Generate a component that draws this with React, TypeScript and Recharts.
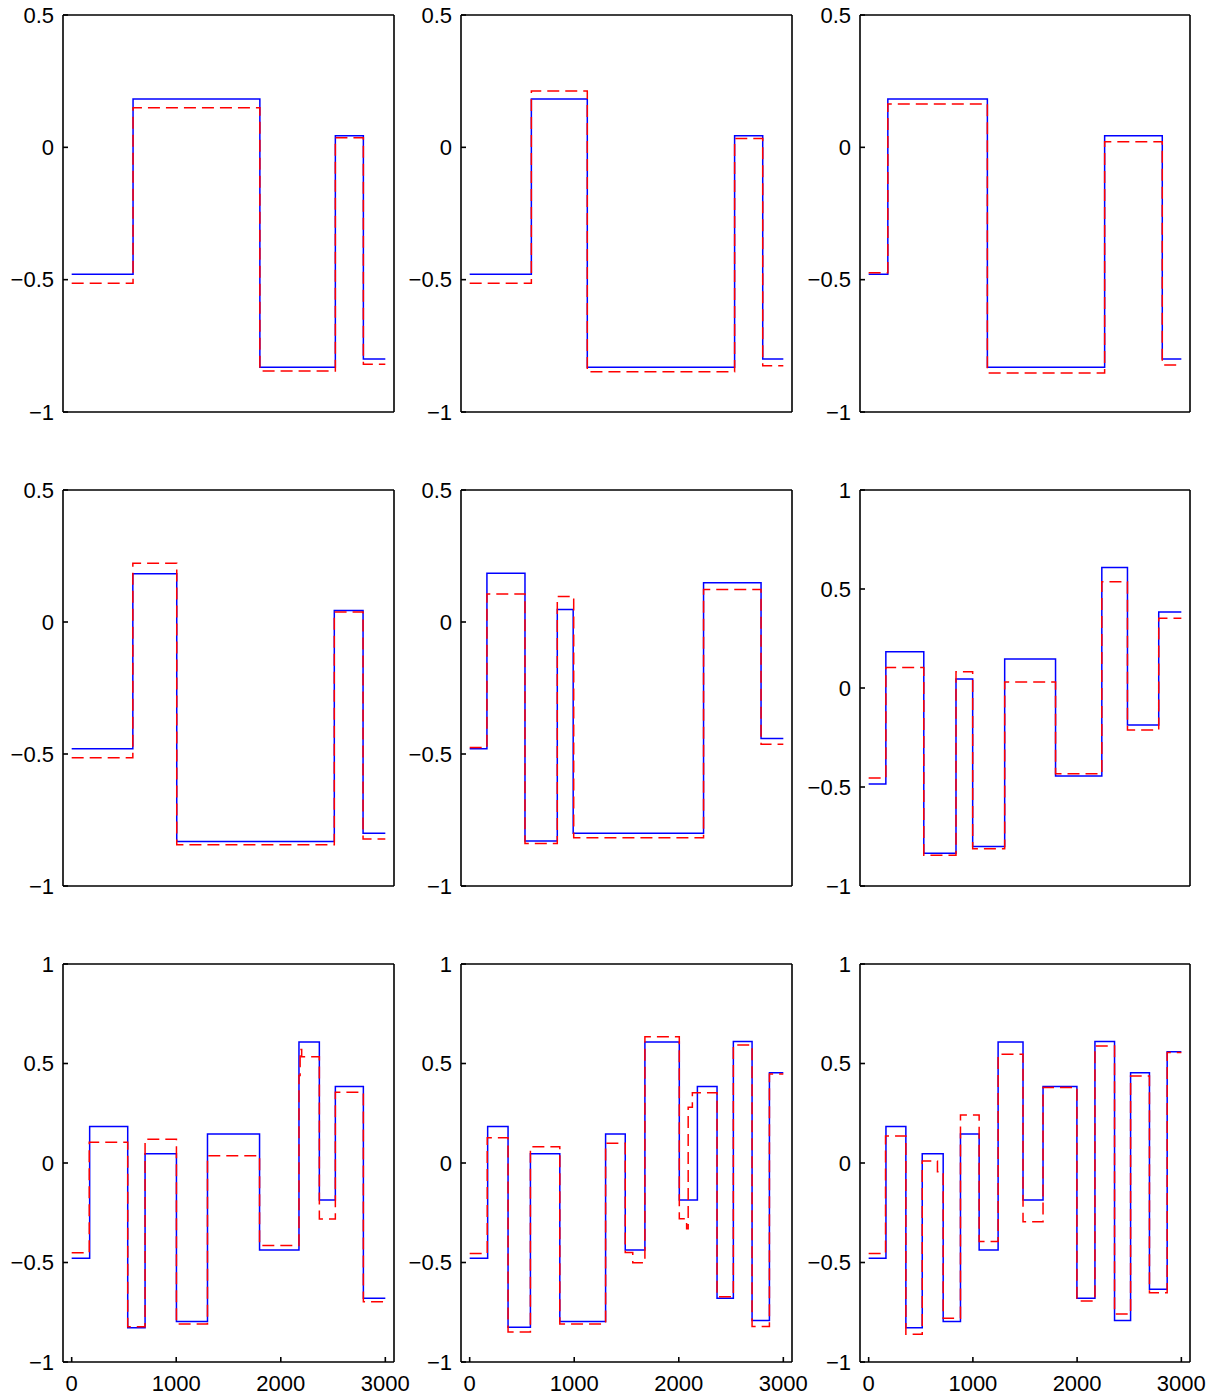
import React from 'react';
import { LineChart, Line, XAxis, YAxis } from 'recharts';

// ---------- shared axis values ----------
const xTicks = [0, 1000, 2000, 3000];
const yTicksA = [-1, -0.5, 0, 0.5];
const yTicksB = [-1, -0.5, 0, 0.5, 1];

// ---------- panel 1 ----------
const p1BlueX = [0, 587, 1800, 2522, 2790, 3000];
const p1BlueY = [-0.48, 0.183, -0.831, 0.044, -0.8, -0.8];
const p1RedX = [0, 587, 1800, 2522, 2790, 3000];
const p1RedY = [-0.514, 0.15, -0.845, 0.036, -0.82, -0.82];

// ---------- panel 2 ----------
const p2BlueX = [0, 590, 1125, 2534, 2803, 3000];
const p2BlueY = [-0.48, 0.183, -0.831, 0.044, -0.8, -0.8];
const p2RedX = [0, 590, 1125, 2534, 2803, 3000];
const p2RedY = [-0.514, 0.213, -0.848, 0.033, -0.825, -0.825];

// ---------- panel 3 ----------
const p3BlueX = [0, 184, 1139, 2264, 2817, 3000];
const p3BlueY = [-0.48, 0.183, -0.831, 0.044, -0.8, -0.8];
const p3RedX = [0, 184, 1139, 2264, 2817, 3000];
const p3RedY = [-0.474, 0.164, -0.853, 0.021, -0.822, -0.822];

// ---------- panel 4 ----------
const p4BlueX = [0, 585, 1005, 2512, 2787, 3000];
const p4BlueY = [-0.48, 0.183, -0.831, 0.044, -0.8, -0.8];
const p4RedX = [0, 585, 1005, 2512, 2787, 3000];
const p4RedY = [-0.514, 0.223, -0.844, 0.038, -0.822, -0.822];

// ---------- panel 5 ----------
const p5BlueX = [0, 165, 529, 838, 990, 2237, 2787, 3000];
const p5BlueY = [-0.48, 0.185, -0.83, 0.047, -0.8, 0.149, -0.441, -0.441];
const p5RedX = [0, 165, 529, 838, 995, 2237, 2787, 3000];
const p5RedY = [-0.475, 0.106, -0.839, 0.097, -0.817, 0.123, -0.463, -0.463];

// ---------- panel 6 ----------
const p6BlueX = [0, 165, 529, 838, 998, 1305, 1793, 2237, 2483, 2783, 3000];
const p6BlueY = [-0.485, 0.183, -0.835, 0.045, -0.8, 0.146, -0.444, 0.609, -0.187, 0.384, 0.384];
const p6RedX = [0, 165, 529, 838, 998, 1305, 1793, 2237, 2483, 2783, 3000];
const p6RedY = [-0.455, 0.103, -0.845, 0.082, -0.812, 0.03, -0.433, 0.537, -0.212, 0.352, 0.352];

// ---------- panel 7 ----------
const p7BlueX = [0, 172, 536, 702, 1002, 1299, 1797, 2174, 2369, 2522, 2790, 3000];
const p7BlueY = [-0.479, 0.183, -0.828, 0.047, -0.797, 0.146, -0.437, 0.608, -0.186, 0.384, -0.68, -0.68];
const p7RedX = [0, 168, 536, 702, 1002, 1299, 1797, 2174, 2185, 2200, 2369, 2522, 2790, 3000];
const p7RedY = [-0.451, 0.104, -0.823, 0.119, -0.809, 0.037, -0.415, 0.44, 0.57, 0.534, -0.281, 0.355, -0.697, -0.697];

// ---------- panel 8 ----------
const p8BlueX = [0, 172, 367, 581, 862, 1300, 1488, 1676, 2005, 2178, 2366, 2522, 2701, 2867, 3000];
const p8BlueY = [-0.479, 0.183, -0.826, 0.047, -0.797, 0.146, -0.437, 0.608, -0.186, 0.384, -0.68, 0.61, -0.792, 0.454, 0.454];
const p8RedX = [0, 168, 367, 581, 862, 1300, 1488, 1560, 1676, 2005, 2075, 2090, 2130, 2366, 2522, 2701, 2867, 3000];
const p8RedY = [-0.455, 0.127, -0.849, 0.082, -0.809, 0.099, -0.45, -0.501, 0.635, -0.28, -0.33, 0.28, 0.353, -0.672, 0.593, -0.822, 0.447, 0.447];

// ---------- panel 9 ----------
const p9BlueX = [0, 166, 357, 514, 715, 881, 1060, 1242, 1481, 1673, 1998, 2171, 2359, 2513, 2694, 2864, 3000];
const p9BlueY = [-0.479, 0.183, -0.828, 0.047, -0.797, 0.146, -0.437, 0.608, -0.186, 0.384, -0.68, 0.61, -0.792, 0.454, -0.635, 0.559, 0.559];
const p9RedX = [0, 162, 357, 514, 660, 715, 881, 1060, 1242, 1481, 1673, 1998, 2171, 2359, 2513, 2694, 2864, 3000];
const p9RedY = [-0.455, 0.136, -0.861, 0.01, -0.044, -0.78, 0.241, -0.394, 0.546, -0.295, 0.379, -0.693, 0.588, -0.759, 0.437, -0.652, 0.555, 0.555];

// ---------- layout ----------
const colLeft = [63, 461, 860];
const colWidth = [331, 331, 330];
const rowTop = [15, 490, 964];
const rowHeight = [397, 396, 398];

type Pt = { t: number; v: number };
const zip = (xs: number[], ys: number[]): Pt[] => xs.map((t, i) => ({ t, v: ys[i] }));

const panels = [
  { blue: zip(p1BlueX, p1BlueY), red: zip(p1RedX, p1RedY), yd: [-1, 0.5], yt: yTicksA },
  { blue: zip(p2BlueX, p2BlueY), red: zip(p2RedX, p2RedY), yd: [-1, 0.5], yt: yTicksA },
  { blue: zip(p3BlueX, p3BlueY), red: zip(p3RedX, p3RedY), yd: [-1, 0.5], yt: yTicksA },
  { blue: zip(p4BlueX, p4BlueY), red: zip(p4RedX, p4RedY), yd: [-1, 0.5], yt: yTicksA },
  { blue: zip(p5BlueX, p5BlueY), red: zip(p5RedX, p5RedY), yd: [-1, 0.5], yt: yTicksA },
  { blue: zip(p6BlueX, p6BlueY), red: zip(p6RedX, p6RedY), yd: [-1, 1], yt: yTicksB },
  { blue: zip(p7BlueX, p7BlueY), red: zip(p7RedX, p7RedY), yd: [-1, 1], yt: yTicksB },
  { blue: zip(p8BlueX, p8BlueY), red: zip(p8RedX, p8RedY), yd: [-1, 1], yt: yTicksB },
  { blue: zip(p9BlueX, p9BlueY), red: zip(p9RedX, p9RedY), yd: [-1, 1], yt: yTicksB },
];

const FONT = '"Liberation Sans", Arial, Helvetica, sans-serif';
const fmt = (v: number) => (v < 0 ? '\u2212' + String(Math.abs(v)) : String(v));
const tickStyle = { fill: '#000', fontSize: 22, fontFamily: FONT };
const lineStyle = { stroke: '#000', strokeWidth: 1.6 };

function Panel(props: {
  left: number; top: number; w: number; h: number;
  blue: Pt[]; red: Pt[]; yd: number[]; yt: number[]; xLabels: boolean;
}) {
  const { left, top, w, h, blue, red, yd, yt, xLabels } = props;
  const LW = 63;
  const TOPM = 16;
  const chartW = w + LW + 30;
  const chartH = h + TOPM + 40;
  return (
    <div style={{ position: 'absolute', left: left - LW, top: top - TOPM, width: chartW, height: chartH }}>
      <LineChart width={chartW} height={chartH} margin={{ top: TOPM - 1, right: 29, bottom: 0, left: 0 }}>
        <XAxis
          xAxisId="b" dataKey="t" type="number" domain={[-83, 3083]} allowDataOverflow
          ticks={xTicks} interval={0} orientation="bottom" height={40}
          tickSize={-5} tickMargin={18}
          tick={xLabels ? tickStyle : false}
          axisLine={lineStyle} tickLine={lineStyle}
        />
        <XAxis
          xAxisId="t" dataKey="t" type="number" domain={[-83, 3083]} allowDataOverflow
          ticks={xTicks} interval={0} orientation="top" height={1}
          tickSize={-5} tick={false}
          axisLine={lineStyle} tickLine={lineStyle}
        />
        <YAxis
          yAxisId="l" type="number" domain={yd} allowDataOverflow ticks={yt} interval={0}
          width={LW} tickSize={-5} tickMargin={14} tickFormatter={fmt} tick={tickStyle}
          axisLine={lineStyle} tickLine={lineStyle}
        />
        <YAxis
          yAxisId="r" orientation="right" type="number" domain={yd} allowDataOverflow ticks={yt} interval={0}
          width={1} tickSize={-5} tick={false}
          axisLine={lineStyle} tickLine={lineStyle}
        />
        <Line
          xAxisId="b" yAxisId="l" data={blue} dataKey="v" type="stepAfter"
          stroke="#0000ff" strokeWidth={1.5} dot={false} activeDot={false} isAnimationActive={false}
        />
        <Line
          xAxisId="b" yAxisId="l" data={red} dataKey="v" type="stepAfter"
          stroke="#ff0000" strokeWidth={1.5} strokeDasharray="12 6" dot={false} activeDot={false}
          isAnimationActive={false}
        />
      </LineChart>
    </div>
  );
}

export default function App() {
  return (
    <div style={{ position: 'absolute', left: 0, top: 0, width: 1217, height: 1399, background: '#fff' }}>
      {panels.map((p, i) => {
        const r = Math.floor(i / 3);
        const c = i % 3;
        return (
          <Panel
            key={i}
            left={colLeft[c]} top={rowTop[r]} w={colWidth[c]} h={rowHeight[r]}
            blue={p.blue} red={p.red} yd={p.yd} yt={p.yt} xLabels={r === 2}
          />
        );
      })}
    </div>
  );
}
